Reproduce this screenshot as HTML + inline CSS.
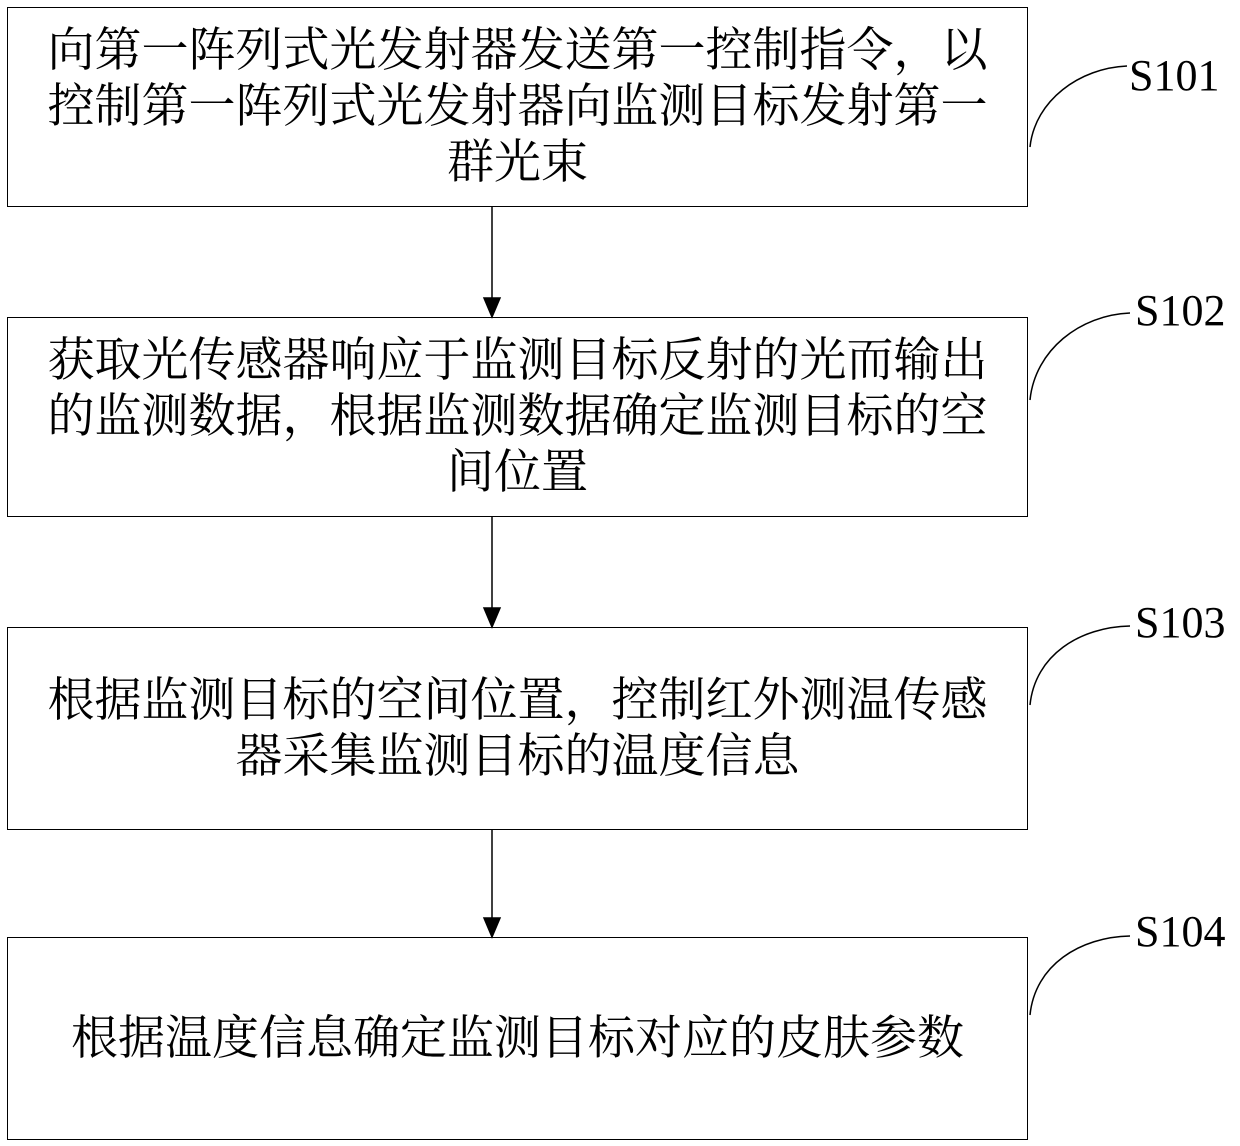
<!DOCTYPE html>
<html><head><meta charset="utf-8"><style>
body{margin:0;background:#fff;width:1240px;height:1146px;position:relative;overflow:hidden}
.b{position:absolute;left:7px;width:1021px;border:1.5px solid #000;box-sizing:border-box;display:flex;align-items:center;justify-content:center;text-align:center;font-family:"Liberation Serif","Noto Serif CJK SC","Noto Sans CJK SC",serif;font-size:47px;line-height:56px;padding:0;color:#000;white-space:nowrap}
.l{position:absolute;font-family:"Liberation Serif",serif;font-size:44px;line-height:44px}
</style></head><body>
<div class="b" style="top:7px;height:200px">向第一阵列式光发射器发送第一控制指令，以<br>控制第一阵列式光发射器向监测目标发射第一<br>群光束</div>
<div class="b" style="top:317px;height:200px">获取光传感器响应于监测目标反射的光而输出<br>的监测数据，根据监测数据确定监测目标的空<br>间位置</div>
<div class="b" style="top:627px;height:203px">根据监测目标的空间位置，控制红外测温传感<br>器采集监测目标的温度信息</div>
<div class="b" style="top:937px;height:203px">根据温度信息确定监测目标对应的皮肤参数</div>
<svg width="1240" height="1146" style="position:absolute;left:0;top:0" fill="none" stroke="#000" stroke-width="1.5">
<line x1="492" y1="207" x2="492" y2="300"/><polygon points="484,298 500,298 492,317" fill="#000"/>
<line x1="492" y1="517" x2="492" y2="610"/><polygon points="484,608 500,608 492,627" fill="#000"/>
<line x1="492" y1="830" x2="492" y2="920"/><polygon points="484,918 500,918 492,937" fill="#000"/>
<path d="M1030,147 C1035,100 1080,68 1127,66"/>
<path d="M1030,400 C1035,350 1080,315 1130,313"/>
<path d="M1030,705 C1035,655 1080,627 1130,626"/>
<path d="M1030,1015 C1035,965 1080,937 1130,936"/>
</svg>
<div class="l" style="left:1129px;top:54px">S101</div>
<div class="l" style="left:1135px;top:289px">S102</div>
<div class="l" style="left:1135px;top:601px">S103</div>
<div class="l" style="left:1135px;top:910px">S104</div>
</body></html>
